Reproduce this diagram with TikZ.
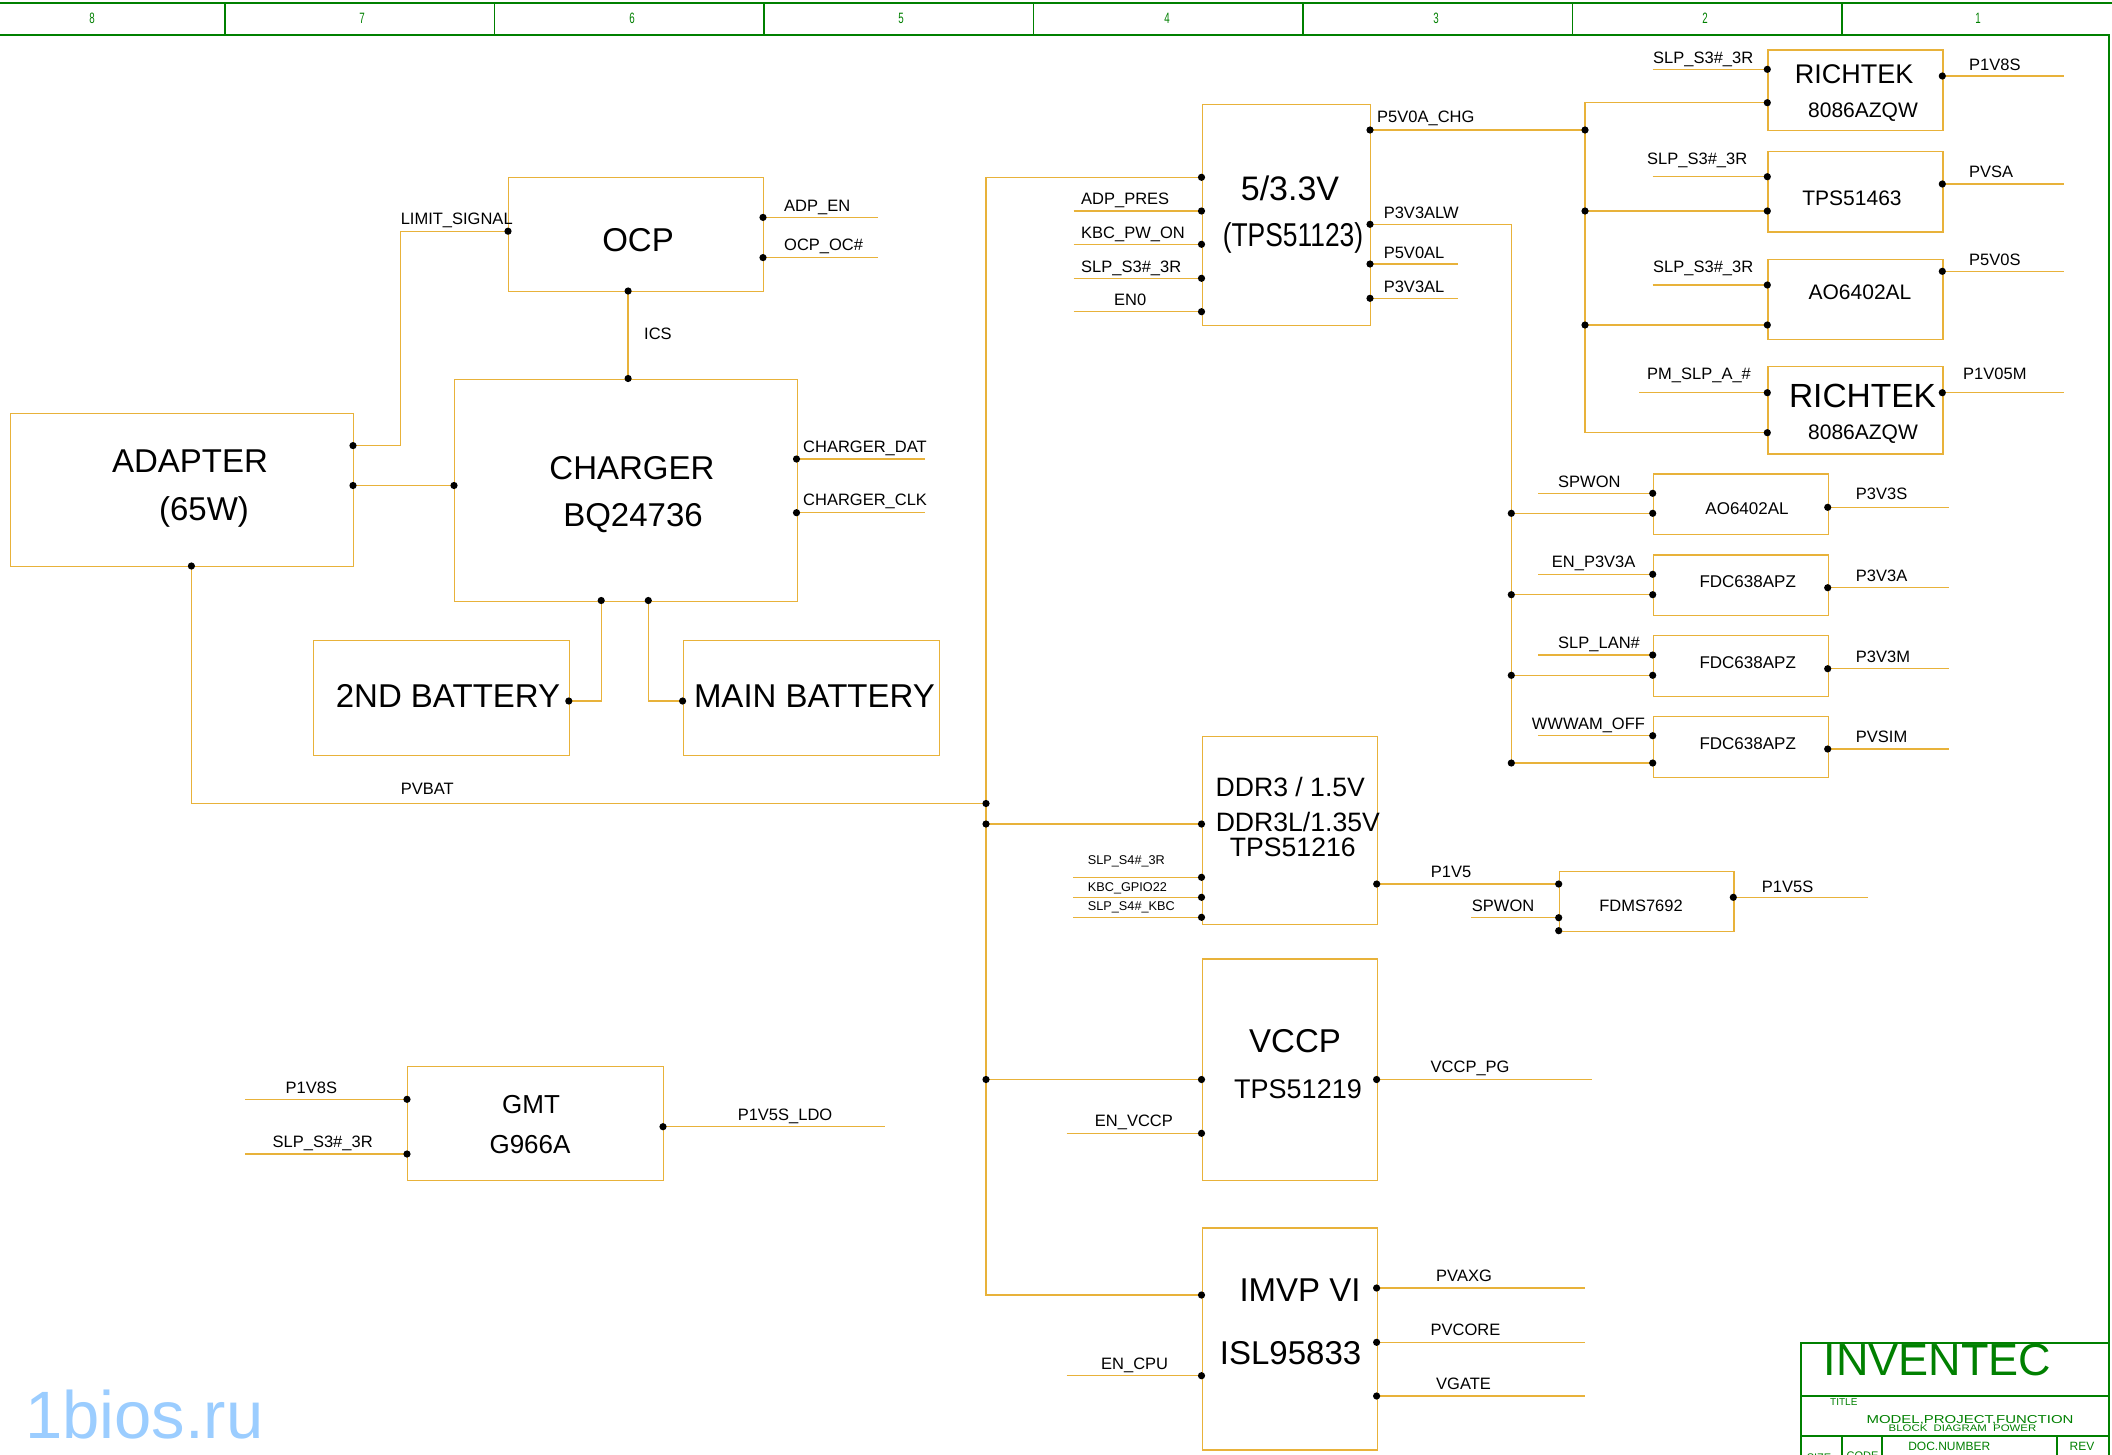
\documentclass[tikz,border=0pt]{standalone}
\usepackage{fontspec}
\setmainfont{Liberation Sans}
\definecolor{wirec}{RGB}{232,178,58}
\definecolor{framec}{RGB}{0,128,0}
\definecolor{wmc}{RGB}{155,205,255}
\newcommand{\fsz}[1]{\fontsize{#1}{#1}\selectfont}
\begin{document}
\begin{tikzpicture}[x=1pt,y=-1pt,
  wire/.style={draw=wirec,line width=1.4pt},
  box/.style={draw=wirec,line width=1.4pt,rectangle,inner sep=0pt,anchor=north west},
  lbl/.style={anchor=base west,inner sep=0pt,font=\fsz{16.5}},
  tinylbl/.style={anchor=base west,inner sep=0pt,font=\fsz{12.7}},
  ttl/.style={anchor=base,inner sep=0pt},
  fr/.style={draw=framec,line width=2pt},
  frthin/.style={draw=framec,line width=1.3pt},
  frt/.style={text=framec,anchor=base,inner sep=0pt}
]
\useasboundingbox (0,0) rectangle (2112,1454);
\fill[white] (0,0) rectangle (2112,1454);

% ---------- frame ----------
\draw[fr] (0,2.5) -- (2112,2.5);
\draw[fr] (0,35) -- (2109,35) -- (2109,1460);
\foreach \xx in {225,494.5,764,1033.5,1303,1572.5,1842}
  \draw[frthin] (\xx,2.5) -- (\xx,35);
\foreach \xx/\nn [count=\i] in {92/8,362/7,632/6,901/5,1167/4,1436/3,1705/2,1978/1}
  \node[frt,font=\fsz{15}] (col\i) at (\xx,23) {\scalebox{0.65}[1]{\nn}};

% title block
\draw[frthin] (1801,1460) -- (1801,1343) -- (2109,1343);
\draw[frthin] (1801,1396) -- (2109,1396);
\draw[frthin] (1801,1436) -- (2109,1436);
\draw[frthin] (1842,1436) -- (1842,1460);
\draw[frthin] (1882,1436) -- (1882,1460);
\draw[frthin] (2057,1436) -- (2057,1460);
\node[frt,font=\fsz{45}] (inv) at (1937.5,1375.4) {INVENTEC};
\node[frt,font=\fsz{10},anchor=base west] (ttitle) at (1830,1405.6) {TITLE};
\node[frt,font=\fsz{11.5}] (tmodel) at (1970,1423) {\scalebox{1.3}[1]{MODEL,PROJECT,FUNCTION}};
\node[frt,font=\fsz{9.5}] (tblock) at (1962.5,1431.4) {\scalebox{1.2}[1]{BLOCK\ \ DIAGRAM\ \ POWER}};
\node[frt,font=\fsz{12}] (tdoc) at (1949.3,1450.6) {DOC.NUMBER};
\node[frt,font=\fsz{12}] (trev) at (2082,1450.6) {REV};
\node[frt,font=\fsz{11}] (tcode) at (1862.5,1459) {CODE};
\node[frt,font=\fsz{11}] (tsize) at (1819,1461) {SIZE};

% watermark
\node[anchor=base west,inner sep=0pt,text=wmc,font=\fsz{67}] (wm) at (25,1438) {1bios.ru};

% ---------- boxes ----------
\node[box,minimum width=255pt,minimum height=114pt] (ocp) at (508,177) {};
\node[box,minimum width=342.5pt,minimum height=222pt] (chg) at (454,378.5) {};
\node[box,minimum width=343pt,minimum height=153.4pt] (adp) at (10,412.6) {};
\node[box,minimum width=256.5pt,minimum height=115pt] (bat2) at (312.5,640) {};
\node[box,minimum width=256.4pt,minimum height=115pt] (batm) at (682.6,640) {};
\node[box,minimum width=168.5pt,minimum height=221.5pt] (v5) at (1201.5,103.5) {};
\node[box,minimum width=175pt,minimum height=80.7pt] (rt1) at (1767.3,49.3) {};
\node[box,minimum width=175pt,minimum height=80.6pt] (tps) at (1767.3,150.7) {};
\node[box,minimum width=175pt,minimum height=80pt] (aoa) at (1767.3,258.7) {};
\node[box,minimum width=175pt,minimum height=87.6pt] (rt2) at (1767.3,365.7) {};
\node[box,minimum width=175pt,minimum height=60.7pt] (aob) at (1652.7,473.3) {};
\node[box,minimum width=175pt,minimum height=60.7pt] (fc1) at (1652.7,554.3) {};
\node[box,minimum width=175pt,minimum height=60.7pt] (fc2) at (1652.7,635) {};
\node[box,minimum width=175pt,minimum height=61pt] (fc3) at (1652.7,715.7) {};
\node[box,minimum width=175.2pt,minimum height=188.5pt] (ddr) at (1201.5,735.5) {};
\node[box,minimum width=174.6pt,minimum height=60pt] (fdms) at (1558.7,870.7) {};
\node[box,minimum width=175.1pt,minimum height=221.7pt] (vccp) at (1201.5,958.3) {};
\node[box,minimum width=175.1pt,minimum height=222pt] (imvp) at (1201.5,1227.3) {};
\node[box,minimum width=256pt,minimum height=114.3pt] (gmt) at (407,1065.7) {};

% ---------- box texts ----------
\node[ttl,font=\fsz{33}] (tocp) at (638,251.8) {OCP};
\node[ttl,font=\fsz{33}] (tchg1) at (632,479.8) {CHARGER};
\node[ttl,font=\fsz{33}] (tchg2) at (633,526.8) {BQ24736};
\node[ttl,font=\fsz{33}] (tadp1) at (190,472.8) {ADAPTER};
\node[ttl,font=\fsz{33}] (tadp2) at (204,520.8) {(65W)};
\node[ttl,font=\fsz{33}] (tbat2) at (448,707.8) {2ND BATTERY};
\node[ttl,font=\fsz{33}] (tbatm) at (814.4,707.8) {MAIN BATTERY};
\node[ttl,font=\fsz{34}] (tv51) at (1290,200.2) {5/3.3V};
\node[ttl,font=\fsz{33}] (tv52) at (1293,246.8) {\scalebox{0.8}[1]{(TPS51123)}};
\node[ttl,font=\fsz{27}] (trt1a) at (1854,83) {RICHTEK};
\node[ttl,font=\fsz{21}] (trt1b) at (1863,117.5) {8086AZQW};
\node[ttl,font=\fsz{21}] (ttps) at (1852,205.2) {TPS51463};
\node[ttl,font=\fsz{21}] (taoa) at (1860,299.2) {AO6402AL};
\node[ttl,font=\fsz{33.5}] (trt2a) at (1862.5,407) {RICHTEK};
\node[ttl,font=\fsz{21}] (trt2b) at (1863,439.5) {8086AZQW};
\node[ttl,font=\fsz{17}] (taob) at (1747,514.4) {AO6402AL};
\node[ttl,font=\fsz{17}] (tfc1) at (1747.7,587.8) {FDC638APZ};
\node[ttl,font=\fsz{17}] (tfc2) at (1747.7,668.8) {FDC638APZ};
\node[ttl,font=\fsz{17}] (tfc3) at (1747.7,749.4) {FDC638APZ};
\node[ttl,font=\fsz{16.5}] (tfdms) at (1641,911.6) {FDMS7692};
\node[ttl,font=\fsz{26.6}] (tddr1) at (1290.3,796.2) {DDR3 / 1.5V};
\node[ttl,font=\fsz{26.6}] (tddr2) at (1297.8,831.2) {DDR3L/1.35V};
\node[ttl,font=\fsz{26.6}] (tddr3) at (1292.8,856.2) {TPS51216};
\node[ttl,font=\fsz{33}] (tvc1) at (1295,1052.8) {VCCP};
\node[ttl,font=\fsz{27}] (tvc2) at (1298,1098.7) {TPS51219};
\node[ttl,font=\fsz{33}] (tim1) at (1300,1301.8) {IMVP VI};
\node[ttl,font=\fsz{33}] (tim2) at (1290.6,1364.1) {ISL95833};
\node[ttl,font=\fsz{26}] (tgm1) at (531,1113.6) {GMT};
\node[ttl,font=\fsz{26}] (tgm2) at (530,1153.5) {G966A};

% ---------- pins / coordinates ----------
\coordinate (adpA) at (353,445.6);
\coordinate (adpB) at (353,485.5);
\coordinate (adpC) at (191.4,566);
\coordinate (limA) at (400.6,445.6);
\coordinate (limB) at (400.6,231.2);
\coordinate (ocpL) at (508,231.2);
\coordinate (ocpR1) at (763,217.4);
\coordinate (ocpR2) at (763,257.6);
\coordinate (ocpB) at (628.1,291);
\coordinate (eAdpEn) at (877.7,217.4);
\coordinate (eOcpOc) at (877.7,257.6);
\coordinate (chgT) at (628.1,378.5);
\coordinate (chgL) at (454,485.5);
\coordinate (chgR1) at (796.5,459);
\coordinate (chgR2) at (796.5,512.7);
\coordinate (eDat) at (925,459);
\coordinate (eClk) at (925,512.7);
\coordinate (chgB1) at (601.2,600.5);
\coordinate (chgB2) at (648.3,600.5);
\coordinate (k2) at (601.2,701);
\coordinate (bat2P) at (568.8,701);
\coordinate (kM) at (648.3,701);
\coordinate (batMP) at (682.6,701);
\coordinate (kPV) at (191.4,803.5);
\coordinate (busPV) at (986,803.5);
\coordinate (busTop) at (986,177.3);
\coordinate (busDDR) at (986,824);
\coordinate (busVC) at (986,1079.5);
\coordinate (busBot) at (986,1295);
% 5/3.3V
\coordinate (v5L0) at (1201.5,177.3);
\coordinate (v5L1) at (1201.5,211);
\coordinate (v5L2) at (1201.5,244.3);
\coordinate (v5L3) at (1201.5,278.3);
\coordinate (v5L4) at (1201.5,311.7);
\coordinate (e51) at (1073.6,211);
\coordinate (e52) at (1073.6,244.3);
\coordinate (e53) at (1073.6,278.3);
\coordinate (e54) at (1073.6,311.7);
\coordinate (v5R1) at (1370,130);
\coordinate (v5R2) at (1370,224.3);
\coordinate (v5R3) at (1370,264);
\coordinate (v5R4) at (1370,298.3);
\coordinate (e5r3) at (1457.5,264);
\coordinate (e5r4) at (1457.5,298.3);
% right bus
\coordinate (rbTop) at (1585,102.7);
\coordinate (rbJ1) at (1585,130);
\coordinate (rbJ2) at (1585,211);
\coordinate (rbJ3) at (1585,325);
\coordinate (rbBot) at (1585,432.7);
\coordinate (rt1L1) at (1767.3,69.3);
\coordinate (ert1) at (1652.7,69.3);
\coordinate (rt1L2) at (1767.3,102.7);
\coordinate (rt1R) at (1942.3,76);
\coordinate (ert1o) at (2064,76);
\coordinate (tpL1) at (1767.3,176.7);
\coordinate (etp) at (1652.7,176.7);
\coordinate (tpL2) at (1767.3,211);
\coordinate (tpR) at (1942.3,184);
\coordinate (etpo) at (2064,184);
\coordinate (aoaL1) at (1767.3,285);
\coordinate (eaoa) at (1652.7,285);
\coordinate (aoaL2) at (1767.3,325);
\coordinate (aoaR) at (1942.3,271.3);
\coordinate (eaoao) at (2064,271.3);
\coordinate (rt2L1) at (1767.3,392.7);
\coordinate (ert2) at (1639.3,392.7);
\coordinate (rt2L2) at (1767.3,432.7);
\coordinate (rt2R) at (1942.3,392.7);
\coordinate (ert2o) at (2064,392.7);
% lower bus
\coordinate (lk) at (1511.3,224.3);
\coordinate (lJ1) at (1511.3,513.3);
\coordinate (lJ2) at (1511.3,594.7);
\coordinate (lJ3) at (1511.3,675.3);
\coordinate (lJ4) at (1511.3,763);
\coordinate (aobL1) at (1652.7,493.3);
\coordinate (eaob) at (1538.3,493.3);
\coordinate (aobL2) at (1652.7,513.3);
\coordinate (aobR) at (1827.7,507.3);
\coordinate (eaobo) at (1949.3,507.3);
\coordinate (fc1L1) at (1652.7,574.3);
\coordinate (efc1) at (1538.3,574.3);
\coordinate (fc1L2) at (1652.7,594.7);
\coordinate (fc1R) at (1827.7,587.7);
\coordinate (efc1o) at (1949.3,587.7);
\coordinate (fc2L1) at (1652.7,655);
\coordinate (efc2) at (1538.3,655);
\coordinate (fc2L2) at (1652.7,675.3);
\coordinate (fc2R) at (1827.7,668.7);
\coordinate (efc2o) at (1949.3,668.7);
\coordinate (fc3L1) at (1652.7,735.7);
\coordinate (efc3) at (1538.3,735.7);
\coordinate (fc3L2) at (1652.7,763);
\coordinate (fc3R) at (1827.7,749);
\coordinate (efc3o) at (1949.3,749);
% DDR
\coordinate (ddrL0) at (1201.5,824);
\coordinate (ddrL1) at (1201.5,877.3);
\coordinate (ddrL2) at (1201.5,897.3);
\coordinate (ddrL3) at (1201.5,917.3);
\coordinate (ed1) at (1073.3,877.3);
\coordinate (ed2) at (1073.3,897.3);
\coordinate (ed3) at (1073.3,917.3);
\coordinate (ddrR) at (1376.7,884);
\coordinate (fdL1) at (1558.7,884);
\coordinate (fdL2) at (1558.7,917.7);
\coordinate (efd) at (1471,917.7);
\coordinate (fdL3) at (1558.7,930.7);
\coordinate (fdR) at (1733.3,897.3);
\coordinate (efdo) at (1868.3,897.3);
% VCCP
\coordinate (vcL0) at (1201.5,1079.5);
\coordinate (vcL1) at (1201.5,1133.3);
\coordinate (evc) at (1066.6,1133.3);
\coordinate (vcR) at (1376.6,1079.5);
\coordinate (evco) at (1591.5,1079.5);
% IMVP
\coordinate (imL0) at (1201.5,1295);
\coordinate (imL1) at (1201.5,1375.7);
\coordinate (eim) at (1066.6,1375.7);
\coordinate (imR1) at (1376.6,1288);
\coordinate (imR2) at (1376.6,1342.3);
\coordinate (imR3) at (1376.6,1396);
\coordinate (eim1) at (1585,1288);
\coordinate (eim2) at (1585,1342.3);
\coordinate (eim3) at (1585,1396);
% GMT
\coordinate (gmL1) at (407,1099.3);
\coordinate (egm1) at (245.2,1099.3);
\coordinate (gmL2) at (407,1154);
\coordinate (egm2) at (245.2,1154);
\coordinate (gmR) at (663,1126.7);
\coordinate (egmo) at (885,1126.7);

% ---------- wires ----------
\draw[wire] (adpA) -- (limA) -- (limB) -- (ocpL);
\draw[wire] (adpB) -- (chgL);
\draw[wire] (ocpR1) -- (eAdpEn);
\draw[wire] (ocpR2) -- (eOcpOc);
\draw[wire] (ocpB) -- (chgT);
\draw[wire] (chgR1) -- (eDat);
\draw[wire] (chgR2) -- (eClk);
\draw[wire] (chgB1) -- (k2) -- (bat2P);
\draw[wire] (chgB2) -- (kM) -- (batMP);
\draw[wire] (adpC) -- (kPV) -- (busPV);
\draw[wire] (v5L0) -- (busTop) -- (busBot) -- (imL0);
\draw[wire] (busDDR) -- (ddrL0);
\draw[wire] (busVC) -- (vcL0);
\draw[wire] (e51) -- (v5L1);
\draw[wire] (e52) -- (v5L2);
\draw[wire] (e53) -- (v5L3);
\draw[wire] (e54) -- (v5L4);
\draw[wire] (v5R1) -- (rbJ1);
\draw[wire] (v5R3) -- (e5r3);
\draw[wire] (v5R4) -- (e5r4);
\draw[wire] (rt1L2) -- (rbTop) -- (rbBot) -- (rt2L2);
\draw[wire] (rbJ2) -- (tpL2);
\draw[wire] (rbJ3) -- (aoaL2);
\draw[wire] (ert1) -- (rt1L1);
\draw[wire] (etp) -- (tpL1);
\draw[wire] (eaoa) -- (aoaL1);
\draw[wire] (ert2) -- (rt2L1);
\draw[wire] (rt1R) -- (ert1o);
\draw[wire] (tpR) -- (etpo);
\draw[wire] (aoaR) -- (eaoao);
\draw[wire] (rt2R) -- (ert2o);
\draw[wire] (v5R2) -- (lk) -- (lJ4) -- (fc3L2);
\draw[wire] (lJ1) -- (aobL2);
\draw[wire] (lJ2) -- (fc1L2);
\draw[wire] (lJ3) -- (fc2L2);
\draw[wire] (eaob) -- (aobL1);
\draw[wire] (efc1) -- (fc1L1);
\draw[wire] (efc2) -- (fc2L1);
\draw[wire] (efc3) -- (fc3L1);
\draw[wire] (aobR) -- (eaobo);
\draw[wire] (fc1R) -- (efc1o);
\draw[wire] (fc2R) -- (efc2o);
\draw[wire] (fc3R) -- (efc3o);
\draw[wire] (ed1) -- (ddrL1);
\draw[wire] (ed2) -- (ddrL2);
\draw[wire] (ed3) -- (ddrL3);
\draw[wire] (ddrR) -- (fdL1);
\draw[wire] (efd) -- (fdL2);
\draw[wire] (fdR) -- (efdo);
\draw[wire] (evc) -- (vcL1);
\draw[wire] (vcR) -- (evco);
\draw[wire] (eim) -- (imL1);
\draw[wire] (imR1) -- (eim1);
\draw[wire] (imR2) -- (eim2);
\draw[wire] (imR3) -- (eim3);
\draw[wire] (egm1) -- (gmL1);
\draw[wire] (egm2) -- (gmL2);
\draw[wire] (gmR) -- (egmo);

% ---------- dots ----------
\foreach \p in {adpA,adpB,adpC,ocpL,ocpR1,ocpR2,ocpB,chgT,chgL,chgR1,chgR2,chgB1,chgB2,
  bat2P,batMP,busPV,busDDR,busVC,v5L0,v5L1,v5L2,v5L3,v5L4,v5R1,v5R2,v5R3,v5R4,
  rbJ1,rbJ2,rbJ3,rt1L1,rt1L2,rt1R,tpL1,tpL2,tpR,aoaL1,aoaL2,aoaR,rt2L1,rt2L2,rt2R,
  lJ1,lJ2,lJ3,lJ4,aobL1,aobL2,aobR,fc1L1,fc1L2,fc1R,fc2L1,fc2L2,fc2R,fc3L1,fc3L2,fc3R,
  ddrL0,ddrL1,ddrL2,ddrL3,ddrR,fdL1,fdL2,fdL3,fdR,vcL0,vcL1,vcR,imL0,imL1,imR1,imR2,imR3,
  gmL1,gmL2,gmR}
  \fill[black] (\p) circle (3.6pt);

% ---------- labels ----------
\node[lbl] (lLim) at (400.6,224) {LIMIT\_SIGNAL};
\node[lbl] (lAdpEn) at (784,211) {ADP\_EN};
\node[lbl] (lOcpOc) at (784,250.6) {OCP\_OC\#};
\node[lbl] (lIcs) at (644,339) {ICS};
\node[lbl] (lDat) at (803,452) {CHARGER\_DAT};
\node[lbl] (lClk) at (803,505.7) {CHARGER\_CLK};
\node[lbl] (lPvbat) at (400.6,794.6) {PVBAT};
\node[lbl] (lAdpPres) at (1081,204) {ADP\_PRES};
\node[lbl] (lKbcPw) at (1081,238.7) {KBC\_PW\_ON};
\node[lbl] (lSlp1) at (1081,272.7) {SLP\_S3\#\_3R};
\node[lbl] (lEn0) at (1114,305.3) {EN0};
\node[lbl] (lP5chg) at (1377,122.7) {P5V0A\_CHG};
\node[lbl] (lP3alw) at (1383.6,218.7) {P3V3ALW};
\node[lbl] (lP5al) at (1383.6,258.3) {P5V0AL};
\node[lbl] (lP3al) at (1383.6,292.7) {P3V3AL};
\node[lbl] (lSlp2) at (1653,63.3) {SLP\_S3\#\_3R};
\node[lbl] (lP1v8s) at (1969,70) {P1V8S};
\node[lbl] (lSlp3) at (1647,164) {SLP\_S3\#\_3R};
\node[lbl] (lPvsa) at (1969,177) {PVSA};
\node[lbl] (lSlp4) at (1653,272.7) {SLP\_S3\#\_3R};
\node[lbl] (lP5v0s) at (1969,265.3) {P5V0S};
\node[lbl] (lPmSlp) at (1647,379) {PM\_SLP\_A\_\#};
\node[lbl] (lP1v05m) at (1963,379) {P1V05M};
\node[lbl] (lSpwon1) at (1558,487) {SPWON};
\node[lbl] (lP3v3s) at (1855.7,499.3) {P3V3S};
\node[lbl] (lEnP3) at (1551.7,567.7) {EN\_P3V3A};
\node[lbl] (lP3v3a) at (1855.7,581) {P3V3A};
\node[lbl] (lSlpLan) at (1558,648.7) {SLP\_LAN\#};
\node[lbl] (lP3v3m) at (1855.7,662) {P3V3M};
\node[lbl] (lWwwam) at (1531.7,729.3) {WWWAM\_OFF};
\node[lbl] (lPvsim) at (1855.7,742.7) {PVSIM};
\node[lbl] (lP1v5) at (1430.7,877.7) {P1V5};
\node[lbl] (lSpwon2) at (1471.7,911) {SPWON};
\node[lbl] (lP1v5s) at (1761.7,892) {P1V5S};
\node[lbl] (lVccpPg) at (1430.5,1072.7) {VCCP\_PG};
\node[lbl] (lEnVccp) at (1094.7,1126) {EN\_VCCP};
\node[lbl] (lPvaxg) at (1436,1281) {PVAXG};
\node[lbl] (lPvcore) at (1430.5,1335) {PVCORE};
\node[lbl] (lVgate) at (1436,1389.3) {VGATE};
\node[lbl] (lEnCpu) at (1101,1369.3) {EN\_CPU};
\node[lbl] (lGP1v8s) at (285.5,1093.3) {P1V8S};
\node[lbl] (lGSlp) at (272.5,1147.7) {SLP\_S3\#\_3R};
\node[lbl] (lLdo) at (737.6,1120.3) {P1V5S\_LDO};
\node[tinylbl] (lS4a) at (1087.7,864) {SLP\_S4\#\_3R};
\node[tinylbl] (lGpio) at (1087.7,891.3) {KBC\_GPIO22};
\node[tinylbl] (lS4b) at (1087.7,910.6) {SLP\_S4\#\_KBC};
\end{tikzpicture}
\end{document}
